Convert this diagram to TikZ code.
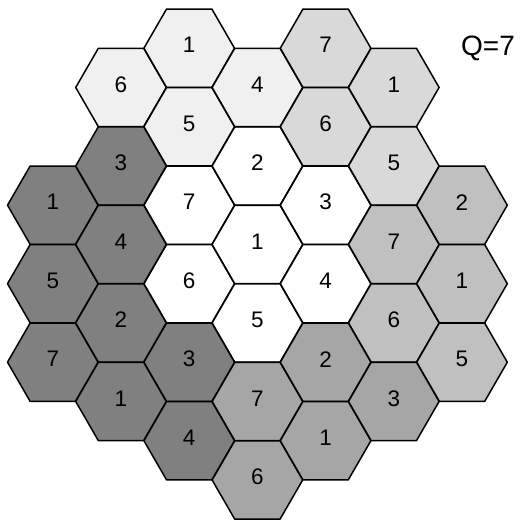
\documentclass[tikz,border=0pt]{standalone}
\usepackage{fontspec}
\setmainfont{Liberation Sans}
\definecolor{gW}{HTML}{FFFFFF}
\definecolor{gTL}{HTML}{F0F0F0}
\definecolor{gTR}{HTML}{D9D9D9}
\definecolor{gR}{HTML}{C0C0C0}
\definecolor{gB}{HTML}{A6A6A6}
\definecolor{gL}{HTML}{808080}
\tikzset{
  hexcell/.style={draw=black, line width=1.5pt, line join=round},
  hexlabel/.style={font=\fontsize{22.5}{22.5}\selectfont, inner sep=0pt},
  qlabel/.style={font=\fontsize{28}{28}\selectfont, inner sep=0pt}
}
\newcommand\hexat[4]{%
  \pgfmathsetmacro\hcx{52.8+68.2*#1}%
  \pgfmathsetmacro\hcy{48.2+39.25*#2}%
  \path[hexcell, fill=#3] (\hcx+45.3,\hcy) -- (\hcx+22.65,\hcy-39.2) -- (\hcx-22.65,\hcy-39.2)
     -- (\hcx-45.3,\hcy) -- (\hcx-22.65,\hcy+39.2) -- (\hcx+22.65,\hcy+39.2) -- cycle;
  \node[hexlabel] (h#1-#2) at (\hcx,\hcy-3) {#4};
}
\begin{document}
\begin{tikzpicture}[x=1pt,y=-1pt]
\useasboundingbox (0,0) rectangle (520,522);
% centre cluster
\hexat{2}{4}{gW}{7}
\hexat{2}{6}{gW}{6}
\hexat{3}{3}{gW}{2}
\hexat{3}{5}{gW}{1}
\hexat{3}{7}{gW}{5}
\hexat{4}{4}{gW}{3}
\hexat{4}{6}{gW}{4}
% top-left cluster
\hexat{1}{1}{gTL}{6}
\hexat{2}{0}{gTL}{1}
\hexat{2}{2}{gTL}{5}
\hexat{3}{1}{gTL}{4}
% top-right cluster
\hexat{4}{0}{gTR}{7}
\hexat{4}{2}{gTR}{6}
\hexat{5}{1}{gTR}{1}
\hexat{5}{3}{gTR}{5}
% right cluster
\hexat{5}{5}{gR}{7}
\hexat{5}{7}{gR}{6}
\hexat{6}{4}{gR}{2}
\hexat{6}{6}{gR}{1}
\hexat{6}{8}{gR}{5}
% bottom cluster
\hexat{3}{9}{gB}{7}
\hexat{3}{11}{gB}{6}
\hexat{4}{8}{gB}{2}
\hexat{4}{10}{gB}{1}
\hexat{5}{9}{gB}{3}
% left cluster
\hexat{0}{4}{gL}{1}
\hexat{0}{6}{gL}{5}
\hexat{0}{8}{gL}{7}
\hexat{1}{3}{gL}{3}
\hexat{1}{5}{gL}{4}
\hexat{1}{7}{gL}{2}
\hexat{1}{9}{gL}{1}
\hexat{2}{8}{gL}{3}
\hexat{2}{10}{gL}{4}
\node[qlabel] (q) at (488,48) {Q=7};
\end{tikzpicture}
\end{document}
